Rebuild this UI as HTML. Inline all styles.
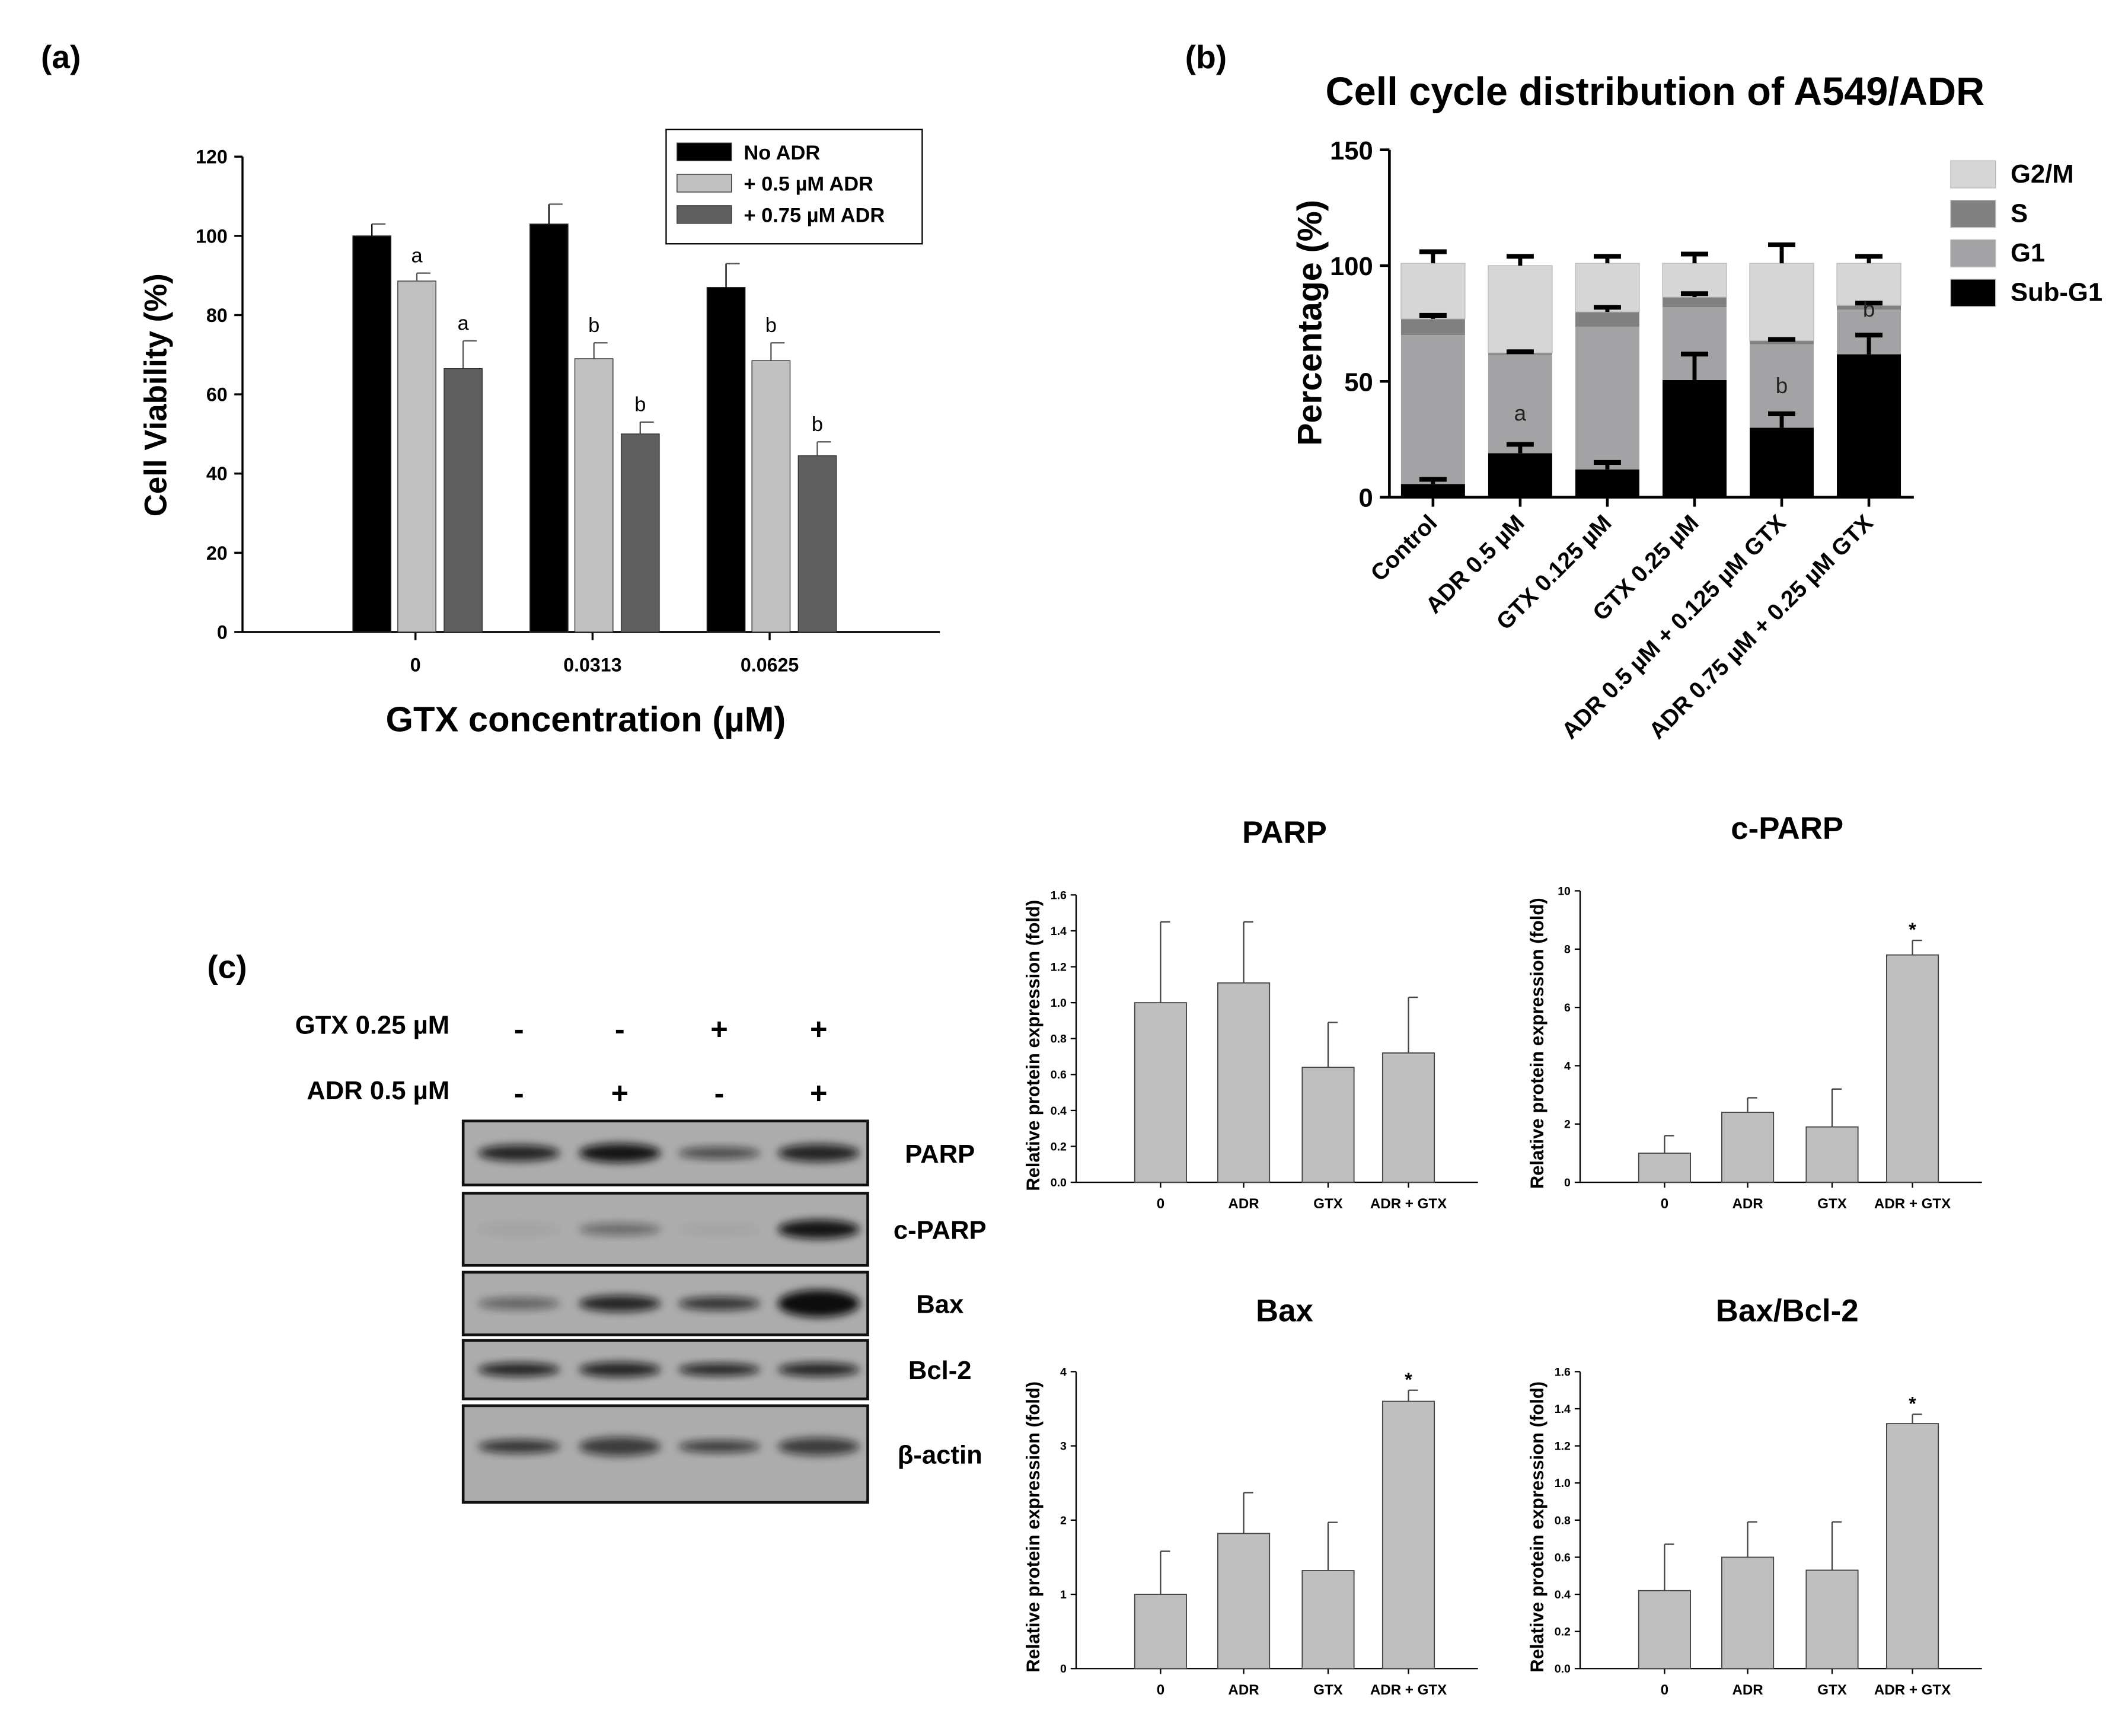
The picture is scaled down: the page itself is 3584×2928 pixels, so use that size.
<!DOCTYPE html>
<html><head><meta charset="utf-8"><style>
html,body{margin:0;padding:0;background:#fff;}
svg{display:block;font-family:"Liberation Sans",Arial,sans-serif;}
</style></head><body>
<svg id="fig" width="3584" height="2928" viewBox="0 0 1560 1274.5" xmlns="http://www.w3.org/2000/svg">
<defs><filter id="blur" x="-20%" y="-50%" width="140%" height="200%"><feGaussianBlur stdDeviation="3"/></filter></defs>
<g id="root"></g>
</svg>
<script>
// ---- Panel (a) data ----
const aGroups = ["0", "0.0313", "0.0625"];
const aSeriesNames = ["No ADR", "+ 0.5 \u00b5M ADR", "+ 0.75 \u00b5M ADR"];
const aNoADR = [100, 103, 87];
const aADR05 = [88.6, 69, 68.5];
const aADR075 = [66.5, 50, 44.5];
const aErrNo = [3, 5, 6];
const aErr05 = [2, 4, 4.5];
const aErr075 = [7, 3, 3.5];
const aLetters05 = ["a", "b", "b"];
const aLetters075 = ["a", "b", "b"];
const aTicks = [0, 20, 40, 60, 80, 100, 120];
// ---- Panel (b) data ----
const bCats = ["Control", "ADR 0.5 \u00b5M", "GTX 0.125 \u00b5M", "GTX 0.25 \u00b5M", "ADR 0.5 \u00b5M + 0.125 \u00b5M GTX", "ADR 0.75 \u00b5M + 0.25  \u00b5M GTX"];
const bSubG1 = [5.7, 19, 12, 50.6, 30, 61.7];
const bG1 = [64.3, 42.5, 61.6, 31.4, 36, 19.3];
const bS = [7, 0.8, 6.4, 4.4, 1.6, 1.8];
const bG2M = [24, 37.7, 21, 14.6, 33.4, 18.2];
const bErrSub = [2, 3.8, 3, 11.2, 6, 8.3];
const bErrS = [1.5, 0.5, 2, 1.5, 0.5, 1];
const bErrTot = [5, 4, 3, 4, 8, 3];
const bLetters = ["", "a", "", "", "b", "b"];
const bLetterVals = [0, 33, 0, 0, 45, 78];
const bTicks = [0, 50, 100, 150];
// ---- Panel (c) small charts data ----
const cCats = ["0", "ADR", "GTX", "ADR + GTX"];
const parpVals = [1.0, 1.11, 0.64, 0.72];
const parpErr = [0.45, 0.34, 0.25, 0.31];
const parpTicks = [0, 0.2, 0.4, 0.6, 0.8, 1.0, 1.2, 1.4, 1.6];
const cparpVals = [1.0, 2.4, 1.9, 7.8];
const cparpErr = [0.6, 0.5, 1.3, 0.5];
const cparpTicks = [0, 2, 4, 6, 8, 10];
const baxVals = [1.0, 1.82, 1.32, 3.6];
const baxErr = [0.58, 0.55, 0.65, 0.15];
const baxTicks = [0, 1, 2, 3, 4];
const ratioVals = [0.42, 0.6, 0.53, 1.32];
const ratioErr = [0.25, 0.19, 0.26, 0.05];
const ratioTicks = [0, 0.2, 0.4, 0.6, 0.8, 1.0, 1.2, 1.4, 1.6];

const NS = "http://www.w3.org/2000/svg";
const root = document.getElementById("root");
function mk(tag, attrs, parent, text) {
  const e = document.createElementNS(NS, tag);
  for (const k in attrs) e.setAttribute(k, attrs[k]);
  if (text !== undefined) e.textContent = text;
  (parent || root).appendChild(e);
  return e;
}
function grp(name, parent) {
  const g = mk("g", {}, parent);
  
  
  return g;
}
function txt(parent, name, x, y, s, size, opts) {
  opts = opts || {};
  const t = mk("text", {x: x, y: y, "font-size": size, "font-weight": opts.w || "bold", "text-anchor": opts.a || "middle", fill: opts.f || "#000"}, parent, s);
  if (opts.rot !== undefined) t.setAttribute("transform", "rotate(" + opts.rot + " " + x + " " + y + ")");
  
  
  return t;
}
function ln(parent, x1, y1, x2, y2, w, c) {
  return mk("line", {x1: x1, y1: y1, x2: x2, y2: y2, stroke: c || "#000", "stroke-width": w || 1}, parent);
}

// ================= Panel (a) =================
(function () {
  const P = grp("panel-a");
  txt(P, "panel-a-label", 30, 50, "(a)", 24, {a: "start"});
  const y0 = 464, yTop = 115, vMax = 120;
  const y = v => y0 - v / vMax * (y0 - yTop);
  const centers = [305, 435, 565];
  const ax = grp("y-axis", P);
  ln(ax, 178, yTop, 178, y0, 1.5);
  aTicks.forEach(t => { ln(ax, 172, y(t), 178, y(t), 1.5); txt(ax, "y-tick-label", 167, y(t) + 5, String(t), 14, {a: "end"}); });
  const xa = grp("x-axis", P);
  ln(xa, 178, y0, 690, y0, 1.5);
  aGroups.forEach((g, i) => { ln(xa, centers[i], y0, centers[i], y0 + 6, 1.5); txt(xa, "x-tick-label", centers[i], 493, g, 14); });
  txt(P, "y-axis-title", 122, 290, "Cell Viability (%)", 23, {rot: -90});
  txt(P, "x-axis-title", 430, 537, "GTX concentration (\u00b5M)", 26);
  const series = [[aNoADR, aErrNo, "#000", -46, null], [aADR05, aErr05, "#c0c0c0", -13, aLetters05], [aADR075, aErr075, "#5f5f5f", 21, aLetters075]];
  const bars = grp("bars", P);
  series.forEach((s, si) => {
    s[0].forEach((v, i) => {
      const x = centers[i] + s[3];
      const r = mk("rect", {x: x, y: y(v), width: 28, height: y0 - y(v), fill: s[2], stroke: "#333", "stroke-width": 0.6}, bars);
      
      
      const c = x + 14, ye = y(v + s[1][i]);
      ln(bars, c, y(v), c, ye, 1, s[2] === "#000" ? "#000" : "#555");
      ln(bars, c, ye, c + 10, ye, 1, "#555");
      if (s[4]) txt(bars, "sig-letter", c, ye - 8, s[4][i], 15, {w: "normal"});
    });
  });
  const L = grp("legend", P);
  mk("rect", {x: 489, y: 95, width: 188, height: 84, fill: "#fff", stroke: "#000", "stroke-width": 1}, L);
  series.forEach((s, i) => {
    const e = grp("legend-entry", L);
    mk("rect", {x: 497, y: 105 + i * 23, width: 40, height: 13, fill: s[2], stroke: "#333", "stroke-width": 0.6}, e);
    txt(e, "legend-label", 546, 117 + i * 23, aSeriesNames[i], 15, {a: "start"});
  });
})();

// ================= Panel (b) =================
(function () {
  const P = grp("panel-b");
  txt(P, "panel-b-label", 870, 50, "(b)", 24, {a: "start"});
  txt(P, "chart-title", 1215, 77, "Cell cycle distribution of A549/ADR", 29);
  const y0 = 365, yTop = 110, vMax = 150;
  const y = v => y0 - v / vMax * (y0 - yTop);
  const c0 = 1052, step = 64, bw = 47;
  const cx = i => c0 + i * step;
  const ax = grp("y-axis", P);
  ln(ax, 1020, yTop, 1020, y0, 2);
  bTicks.forEach(t => { ln(ax, 1013, y(t), 1020, y(t), 2); txt(ax, "y-tick-label", 1008, y(t) + 7, String(t), 19, {a: "end"}); });
  txt(P, "y-axis-title", 970, 237, "Percentage (%)", 25, {rot: -90});
  const xa = grp("x-axis", P);
  ln(xa, 1020, y0, 1405, y0, 2);
  bCats.forEach((c, i) => { ln(xa, cx(i), y0, cx(i), y0 + 7, 2); txt(xa, "x-tick-label", cx(i) + 4, y0 + 20, c, 17, {a: "end", rot: -45}); });
  const colors = ["#000", "#a3a3a6", "#808080", "#d6d6d6"];
  const segs = [bSubG1, bG1, bS, bG2M];
  const bars = grp("stacked-bars", P);
  bCats.forEach((c, i) => {
    let base = 0;
    segs.forEach((s, si) => {
      const r = mk("rect", {x: cx(i) - bw / 2, y: y(base + s[i]), width: bw, height: y(base) - y(base + s[i]), fill: colors[si], stroke: si === 3 ? "#bbb" : "none", "stroke-width": 0.6}, bars);
      
      
      base += s[i];
    });
    const tops = [[bSubG1[i], bErrSub[i]], [bSubG1[i] + bG1[i] + bS[i], bErrS[i]], [base, bErrTot[i]]];
    tops.forEach(t => {
      const ye = y(t[0] + t[1]);
      ln(bars, cx(i), y(t[0]), cx(i), ye, 3);
      ln(bars, cx(i) - 10, ye, cx(i) + 10, ye, 3.5);
    });
    if (bLetters[i]) txt(bars, "sig-letter", cx(i), y(bLetterVals[i]), bLetters[i], 16, {w: "normal", f: "#222"});
  });
  const names = ["G2/M", "S", "G1", "Sub-G1"];
  const L = grp("legend", P);
  names.forEach((n, i) => {
    const e = grp("legend-entry", L);
    mk("rect", {x: 1432, y: 118 + i * 29, width: 33, height: 20, fill: colors[3 - i], stroke: "#bbb", "stroke-width": 0.6}, e);
    txt(e, "legend-label", 1476, 134 + i * 29, n, 19, {a: "start"});
  });
})();

// ================= Panel (c) blots =================
(function () {
  const P = grp("panel-c");
  txt(P, "panel-c-label", 152, 718, "(c)", 24, {a: "start"});
  const lanes = [381, 455, 528, 601];
  const gtx = ["-", "-", "+", "+"], adr = ["-", "+", "-", "+"];
  txt(P, "row-label", 330, 759, "GTX 0.25 \u00b5M", 19, {a: "end"});
  txt(P, "row-label", 330, 807, "ADR 0.5 \u00b5M", 19, {a: "end"});
  lanes.forEach((x, i) => { txt(P, "treatment-sign", x, 763, gtx[i], 22); txt(P, "treatment-sign", x, 810, adr[i], 22); });
  const blots = [
    ["PARP", 823, 870, [0.85, 0.95, 0.6, 0.85], [12, 14, 9, 13]],
    ["c-PARP", 876, 929, [0.05, 0.4, 0.05, 0.95], [10, 9, 8, 14]],
    ["Bax", 934, 980, [0.45, 0.85, 0.75, 1.0], [9, 12, 10, 20]],
    ["Bcl-2", 984, 1027, [0.85, 0.85, 0.85, 0.85], [10, 11, 9, 10]],
    ["\u03b2-actin", 1032, 1103, [0.75, 0.7, 0.7, 0.7], [10, 14, 9, 13]]
  ];
  blots.forEach(b => {
    const g = grp("blot-" + b[0], P);
    mk("rect", {x: 340, y: b[1], width: 297, height: b[2] - b[1], fill: "#acacac", stroke: "#111", "stroke-width": 2}, g);
    const cy = b[0] === "\u03b2-actin" ? b[1] + 30 : (b[1] + b[2]) / 2;
    lanes.forEach((x, i) => {
      const e = mk("ellipse", {cx: x, cy: cy, rx: 30, ry: b[4][i] / 2, fill: "#111", opacity: b[3][i], filter: "url(#blur)"}, g);
      
      
    });
    txt(g, "blot-label", 690, (b[1] + b[2]) / 2 + 7, b[0], 19);
  });
})();

// ================= small bar charts =================
function small(name, title, titleX, titleY, axX, yTop, y0, ticks, vals, errs, star, decimals) {
  const P = grp(name);
  const vMax = ticks[ticks.length - 1];
  const y = v => y0 - v / vMax * (y0 - yTop);
  const centers = [axX + 62, axX + 123, axX + 185, axX + 244];
  txt(P, "chart-title", titleX, titleY, title, 23);
  const ax = grp("y-axis", P);
  ln(ax, axX, yTop, axX, y0, 1);
  ticks.forEach(t => { ln(ax, axX - 4, y(t), axX, y(t), 1); txt(ax, "y-tick-label", axX - 7, y(t) + 3, t.toFixed(decimals), 8.5, {a: "end"}); });
  txt(P, "y-axis-title", axX - 27, (yTop + y0) / 2 + 5, "Relative  protein expression (fold)", 13.5, {rot: -90});
  const xa = grp("x-axis", P);
  ln(xa, axX, y0, axX + 295, y0, 1);
  cCats.forEach((c, i) => { ln(xa, centers[i], y0, centers[i], y0 + 4, 1); txt(xa, "x-tick-label", centers[i], y0 + 19, c, 10.5); });
  const bars = grp("bars", P);
  vals.forEach((v, i) => {
    const r = mk("rect", {x: centers[i] - 19, y: y(v), width: 38, height: y0 - y(v), fill: "#bfbfbf", stroke: "#444", "stroke-width": 0.8}, bars);
    
    
    const ye = y(v + errs[i]);
    ln(bars, centers[i], y(v), centers[i], ye, 1, "#444");
    ln(bars, centers[i], ye, centers[i] + 7, ye, 1, "#444");
    if (star[i]) txt(bars, "significance-star", centers[i], ye - 3, "*", 14);
  });
}
small("chart-parp", "PARP", 943, 619, 790, 657, 868, parpTicks, parpVals, parpErr, [0, 0, 0, 0], 1);
small("chart-c-parp", "c-PARP", 1312, 616, 1160, 654, 868, cparpTicks, cparpVals, cparpErr, [0, 0, 0, 1], 0);
small("chart-bax", "Bax", 943, 970, 790, 1007, 1225, baxTicks, baxVals, baxErr, [0, 0, 0, 1], 0);
small("chart-bax-bcl2", "Bax/Bcl-2", 1312, 970, 1160, 1007, 1225, ratioTicks, ratioVals, ratioErr, [0, 0, 0, 1], 1);
</script>
</body></html>
